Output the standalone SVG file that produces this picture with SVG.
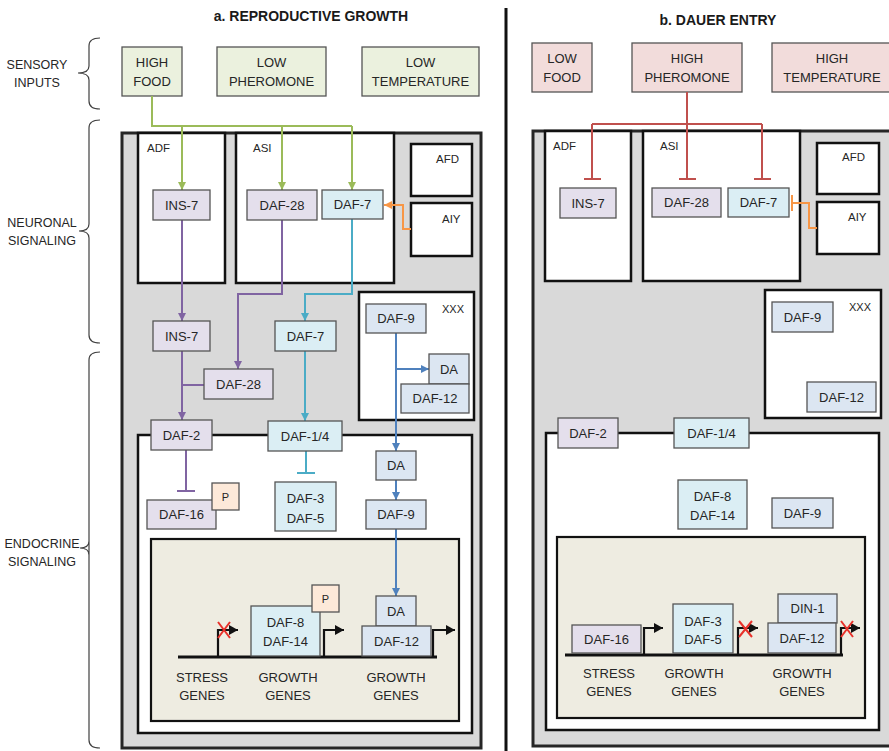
<svg xmlns="http://www.w3.org/2000/svg" width="889" height="751" viewBox="0 0 889 751">
<style>
text{font-family:"Liberation Sans",Arial,sans-serif;font-size:13px;fill:#262626}
.c{text-anchor:middle}
.t{font-size:14px;font-weight:bold;fill:#1a1a1a}
.sl{font-size:12.5px}
.sm{font-size:11.5px}
.xs{font-size:11px}
.gray{fill:#d9d9d9;stroke:#262626;stroke-width:3}
.box{fill:#fff;stroke:#111;stroke-width:2.5}
.nuc{fill:#eeece1;stroke:#111;stroke-width:2.2}
.p{stroke:#555;stroke-width:1.3}
.lav{fill:#e4dfec}.lb{fill:#dbeef4}.bg{fill:#dce6f2}.pe{fill:#fde9d9}.gr{fill:#ebf1de}.pk{fill:#f2dcdb}
.brace{fill:none;stroke:#404040;stroke-width:1.2}
.ln{fill:none;stroke-width:2}
.green{stroke:#9bbb59}.purple{stroke:#8064a2}.cyan{stroke:#4bacc6}.blue{stroke:#4f81bd}.orange{stroke:#f79646}.red{stroke:#c0504d}
.dna{stroke:#111;stroke-width:3.2;fill:none}
.prom{stroke:#111;stroke-width:2.2;fill:none}
.x{stroke:#e8312a;stroke-width:2;fill:none}
</style>
<defs>
<marker id="aG" markerUnits="userSpaceOnUse" markerWidth="9" markerHeight="9" refX="8" refY="4" orient="auto"><path d="M0,0 L8,4 L0,8 z" fill="#9bbb59"/></marker>
<marker id="aP" markerUnits="userSpaceOnUse" markerWidth="9" markerHeight="9" refX="8" refY="4" orient="auto"><path d="M0,0 L8,4 L0,8 z" fill="#8064a2"/></marker>
<marker id="aC" markerUnits="userSpaceOnUse" markerWidth="9" markerHeight="9" refX="8" refY="4" orient="auto"><path d="M0,0 L8,4 L0,8 z" fill="#4bacc6"/></marker>
<marker id="aB" markerUnits="userSpaceOnUse" markerWidth="9" markerHeight="9" refX="8" refY="4" orient="auto"><path d="M0,0 L8,4 L0,8 z" fill="#4f81bd"/></marker>
<marker id="aO" markerUnits="userSpaceOnUse" markerWidth="9" markerHeight="9" refX="8" refY="4" orient="auto"><path d="M0,0 L8,4 L0,8 z" fill="#f79646"/></marker>
<marker id="aK" markerUnits="userSpaceOnUse" markerWidth="11" markerHeight="11" refX="9" refY="5" orient="auto"><path d="M0,0 L9,5 L0,10 z" fill="#111"/></marker>
</defs>
<rect width="889" height="751" fill="#fff"/>

<g id="titles">
<text class="t c" x="311" y="21">a. REPRODUCTIVE GROWTH</text>
<text class="t c" x="718" y="25">b. DAUER ENTRY</text>
<line x1="506" y1="8" x2="506" y2="751" stroke="#111" stroke-width="3"/>
</g>
<g id="side-labels">
<text class="sl c" x="37" y="69">SENSORY</text><text class="sl c" x="37" y="87">INPUTS</text>
<path class="brace" d="M100,38 Q89,38 89,46 L89,66 Q89,73 78,73 Q89,73 89,80 L89,101 Q89,109 100,109"/>
<text class="sl c" x="42" y="227">NEURONAL</text><text class="sl c" x="42" y="245">SIGNALING</text>
<path class="brace" d="M100,120 Q89,120 89,128 L89,224 Q89,231 79,231 Q89,231 89,238 L89,335 Q89,343 100,343"/>
<text class="sl c" x="42" y="548">ENDOCRINE</text><text class="sl c" x="42" y="566">SIGNALING</text>
<path class="brace" d="M100,352 Q89,352 89,360 L89,740 Q89,748 100,748 M89,541 Q89,548 80,548 Q89,548 89,555"/>
</g>

<!-- LEFT PANEL -->
<g id="a-inputs">
<g id="a-high-food"><rect class="p gr" x="122" y="47" width="60" height="49"/><text class="c" x="152" y="67">HIGH</text><text class="c" x="152" y="86">FOOD</text></g>
<g id="a-low-pheromone"><rect class="p gr" x="217" y="47" width="109" height="49"/><text class="c" x="271.5" y="67">LOW</text><text class="c" x="271.5" y="86">PHEROMONE</text></g>
<g id="a-low-temperature"><rect class="p gr" x="362" y="47" width="117" height="49"/><text class="c" x="420.5" y="67">LOW</text><text class="c" x="420.5" y="86">TEMPERATURE</text></g>
</g>
<g id="a-organism"><rect class="gray" x="122" y="133" width="359" height="615"/></g>
<g id="a-ADF"><rect class="box" x="138" y="133" width="87" height="150"/><text class="sm" x="147" y="152">ADF</text></g>
<g id="a-ASI"><rect class="box" x="236" y="133" width="158" height="150"/><text class="sm" x="253" y="152">ASI</text></g>
<g id="a-AFD"><rect class="box" x="411" y="144" width="61" height="52"/><text class="sm" x="436" y="163">AFD</text></g>
<g id="a-AIY"><rect class="box" x="411" y="203" width="61" height="53"/><text class="sm" x="442" y="223">AIY</text></g>
<g id="a-XXX"><rect class="box" x="359" y="292" width="115" height="128"/><text class="xs c" x="453" y="313">XXX</text></g>
<g id="a-endocrine"><rect class="box" x="138" y="435" width="334" height="298"/></g>
<g id="a-nucleus"><rect class="nuc" x="151" y="539" width="308" height="182"/></g>

<g id="a-connectors">
<path class="ln green" d="M152,96 V126 H352"/>
<path class="ln green" d="M182,126 V190" marker-end="url(#aG)"/>
<path class="ln green" d="M282,126 V190" marker-end="url(#aG)"/>
<path class="ln green" d="M352,126 V190" marker-end="url(#aG)"/>
<path class="ln orange" d="M411,229 H403 V205 H384" marker-end="url(#aO)"/>
<path class="ln purple" d="M182,220 V321" marker-end="url(#aP)"/>
<path class="ln purple" d="M282,220 V294 H238 V369" marker-end="url(#aP)"/>
<path class="ln purple" d="M182,351 V420" marker-end="url(#aP)"/>
<path class="ln purple" d="M182,385 H204"/>
<path class="ln purple" d="M186,450 V491 M177,491 H195"/>
<path class="ln cyan" d="M352,219 V294 H305 V321" marker-end="url(#aC)"/>
<path class="ln cyan" d="M305,351 V421" marker-end="url(#aC)"/>
<path class="ln cyan" d="M306,451 V473 M297,473 H315"/>
<path class="ln blue" d="M396,333 V451" marker-end="url(#aB)"/>
<path class="ln blue" d="M396,369 H429" marker-end="url(#aB)"/>
<path class="ln blue" d="M396,480 V500" marker-end="url(#aB)"/>
<path class="ln blue" d="M396,529 V596" marker-end="url(#aB)"/>
</g>

<g id="a-INS-7"><rect class="p lav" x="153" y="190" width="57" height="30"/><text class="c" x="181.5" y="209.5">INS-7</text></g>
<g id="a-DAF-28"><rect class="p lav" x="247" y="190" width="70" height="30"/><text class="c" x="282" y="209.5">DAF-28</text></g>
<g id="a-DAF-7"><rect class="p lb" x="322" y="190" width="61" height="29"/><text class="c" x="352.5" y="209">DAF-7</text></g>
<g id="a-INS-7-b"><rect class="p lav" x="153" y="321" width="57" height="30"/><text class="c" x="181.5" y="340.5">INS-7</text></g>
<g id="a-DAF-28-b"><rect class="p lav" x="204" y="369" width="69" height="30"/><text class="c" x="238.5" y="388.5">DAF-28</text></g>
<g id="a-DAF-7-b"><rect class="p lb" x="275" y="321" width="61" height="30"/><text class="c" x="305.5" y="340.5">DAF-7</text></g>
<g id="a-DAF-9-x"><rect class="p bg" x="366" y="304" width="60" height="29"/><text class="c" x="396" y="323">DAF-9</text></g>
<g id="a-DA-x"><rect class="p bg" x="429" y="354" width="40" height="30"/><text class="c" x="449" y="373.5">DA</text></g>
<g id="a-DAF-12-x"><rect class="p bg" x="401" y="384" width="68" height="29"/><text class="c" x="435" y="403">DAF-12</text></g>
<g id="a-DAF-2"><rect class="p lav" x="151" y="420" width="61" height="30"/><text class="c" x="181.5" y="439.5">DAF-2</text></g>
<g id="a-DAF-1-4"><rect class="p lb" x="268" y="421" width="74" height="30"/><text class="c" x="305" y="440.5">DAF-1/4</text></g>
<g id="a-DAF-16"><rect class="p lav" x="147" y="500" width="69" height="29"/><text class="c" x="181.5" y="519">DAF-16</text></g>
<g id="a-P1"><rect class="p pe" x="212" y="483" width="27" height="27"/><text class="xs c" x="225.5" y="500.5">P</text></g>
<g id="a-DAF-3-5"><rect class="p lb" x="275" y="482" width="61" height="49"/><text class="c" x="305.5" y="503">DAF-3</text><text class="c" x="305.5" y="523">DAF-5</text></g>
<g id="a-DA"><rect class="p bg" x="376" y="451" width="40" height="29"/><text class="c" x="396" y="470">DA</text></g>
<g id="a-DAF-9"><rect class="p bg" x="366" y="500" width="60" height="29"/><text class="c" x="396" y="519">DAF-9</text></g>

<g id="a-genes">
<path class="dna" d="M178,657 H437"/>
<path class="prom" d="M218,657 V630 H238" marker-end="url(#aK)"/>
<path class="x" d="M218,622 L230,638 M230,622 L218,638"/>
<path class="prom" d="M324,657 V630 H344" marker-end="url(#aK)"/>
<path class="prom" d="M433,657 V630 H455" marker-end="url(#aK)"/>
<text class="c" x="202" y="682">STRESS</text><text class="c" x="202" y="700">GENES</text>
<text class="c" x="288" y="682">GROWTH</text><text class="c" x="288" y="700">GENES</text>
<text class="c" x="396" y="682">GROWTH</text><text class="c" x="396" y="700">GENES</text>
</g>
<g id="a-DAF-8-14"><rect class="p lb" x="251" y="606" width="69" height="50"/><text class="c" x="285.5" y="627">DAF-8</text><text class="c" x="285.5" y="646">DAF-14</text></g>
<g id="a-P2"><rect class="p pe" x="312" y="585" width="27" height="27"/><text class="xs c" x="325.5" y="602.5">P</text></g>
<g id="a-DA-n"><rect class="p bg" x="376" y="596" width="40" height="30"/><text class="c" x="396" y="615.5">DA</text></g>
<g id="a-DAF-12-n"><rect class="p bg" x="362" y="626" width="69" height="30"/><text class="c" x="396.5" y="645.5">DAF-12</text></g>

<!-- RIGHT PANEL -->
<g id="b-inputs">
<g id="b-low-food"><rect class="p pk" x="532" y="43" width="60" height="49"/><text class="c" x="562" y="63">LOW</text><text class="c" x="562" y="82">FOOD</text></g>
<g id="b-high-pheromone"><rect class="p pk" x="632" y="43" width="110" height="49"/><text class="c" x="687" y="63">HIGH</text><text class="c" x="687" y="82">PHEROMONE</text></g>
<g id="b-high-temperature"><rect class="p pk" x="772" y="43" width="122" height="49"/><text class="c" x="832" y="63">HIGH</text><text class="c" x="832" y="82">TEMPERATURE</text></g>
</g>
<g id="b-organism"><rect class="gray" x="533" y="131" width="362" height="615"/></g>
<g id="b-ADF"><rect class="box" x="545" y="131" width="86" height="150"/><text class="sm" x="553" y="150">ADF</text></g>
<g id="b-ASI"><rect class="box" x="643" y="131" width="157" height="150"/><text class="sm" x="660" y="150">ASI</text></g>
<g id="b-AFD"><rect class="box" x="817" y="143" width="62" height="51"/><text class="sm" x="842" y="161">AFD</text></g>
<g id="b-AIY"><rect class="box" x="817" y="202" width="62" height="52"/><text class="sm" x="848" y="221">AIY</text></g>
<g id="b-XXX"><rect class="box" x="765" y="290" width="116" height="128"/><text class="xs c" x="860" y="311">XXX</text></g>
<g id="b-endocrine"><rect class="box" x="546" y="433" width="333" height="297"/></g>
<g id="b-nucleus"><rect class="nuc" x="557" y="537" width="308" height="181"/></g>

<g id="b-connectors">
<path class="ln red" d="M687,92 V124 M592,124 H762"/>
<path class="ln red" d="M592,124 V179 M584,179 H601"/>
<path class="ln red" d="M687,124 V179 M679,179 H696"/>
<path class="ln red" d="M762,124 V179 M754,179 H771"/>
<path class="ln orange" d="M817,228 H809 V203 H792 M792,195 V211"/>
</g>

<g id="b-INS-7"><rect class="p lav" x="560" y="188" width="56" height="30"/><text class="c" x="588" y="207.5">INS-7</text></g>
<g id="b-DAF-28"><rect class="p lav" x="652" y="188" width="69" height="29"/><text class="c" x="686.5" y="207">DAF-28</text></g>
<g id="b-DAF-7"><rect class="p lb" x="728" y="188" width="61" height="29"/><text class="c" x="758.5" y="207">DAF-7</text></g>
<g id="b-DAF-9-x"><rect class="p bg" x="772" y="302" width="61" height="30"/><text class="c" x="802.5" y="321.5">DAF-9</text></g>
<g id="b-DAF-12-x"><rect class="p bg" x="807" y="382" width="69" height="30"/><text class="c" x="841.5" y="401.5">DAF-12</text></g>
<g id="b-DAF-2"><rect class="p lav" x="558" y="418" width="60" height="30"/><text class="c" x="588" y="437.5">DAF-2</text></g>
<g id="b-DAF-1-4"><rect class="p lb" x="674" y="418" width="75" height="30"/><text class="c" x="711.5" y="437.5">DAF-1/4</text></g>
<g id="b-DAF-8-14"><rect class="p lb" x="678" y="480" width="69" height="49"/><text class="c" x="712.5" y="501">DAF-8</text><text class="c" x="712.5" y="520">DAF-14</text></g>
<g id="b-DAF-9"><rect class="p bg" x="772" y="498" width="61" height="30"/><text class="c" x="802.5" y="517.5">DAF-9</text></g>

<g id="b-genes">
<path class="dna" d="M565,655 H843"/>
<path class="prom" d="M644,655 V628 H663" marker-end="url(#aK)"/>
<path class="prom" d="M738,655 V628 H758" marker-end="url(#aK)"/>
<path class="x" d="M739,621 L752,637 M752,621 L739,637"/>
<path class="prom" d="M841,655 V628 H860" marker-end="url(#aK)"/>
<path class="x" d="M841,621 L853,637 M853,621 L841,637"/>
<text class="c" x="609" y="678">STRESS</text><text class="c" x="609" y="696">GENES</text>
<text class="c" x="694" y="678">GROWTH</text><text class="c" x="694" y="696">GENES</text>
<text class="c" x="802" y="678">GROWTH</text><text class="c" x="802" y="696">GENES</text>
</g>
<g id="b-DAF-16"><rect class="p lav" x="572" y="625" width="69" height="28"/><text class="c" x="606.5" y="643.5">DAF-16</text></g>
<g id="b-DAF-3-5"><rect class="p lb" x="673" y="604" width="60" height="49"/><text class="c" x="703" y="626">DAF-3</text><text class="c" x="703" y="644">DAF-5</text></g>
<g id="b-DIN-1"><rect class="p bg" x="778" y="594" width="59" height="29"/><text class="c" x="807.5" y="613">DIN-1</text></g>
<g id="b-DAF-12-n"><rect class="p bg" x="768" y="623" width="68" height="30"/><text class="c" x="802" y="642.5">DAF-12</text></g>
</svg>
